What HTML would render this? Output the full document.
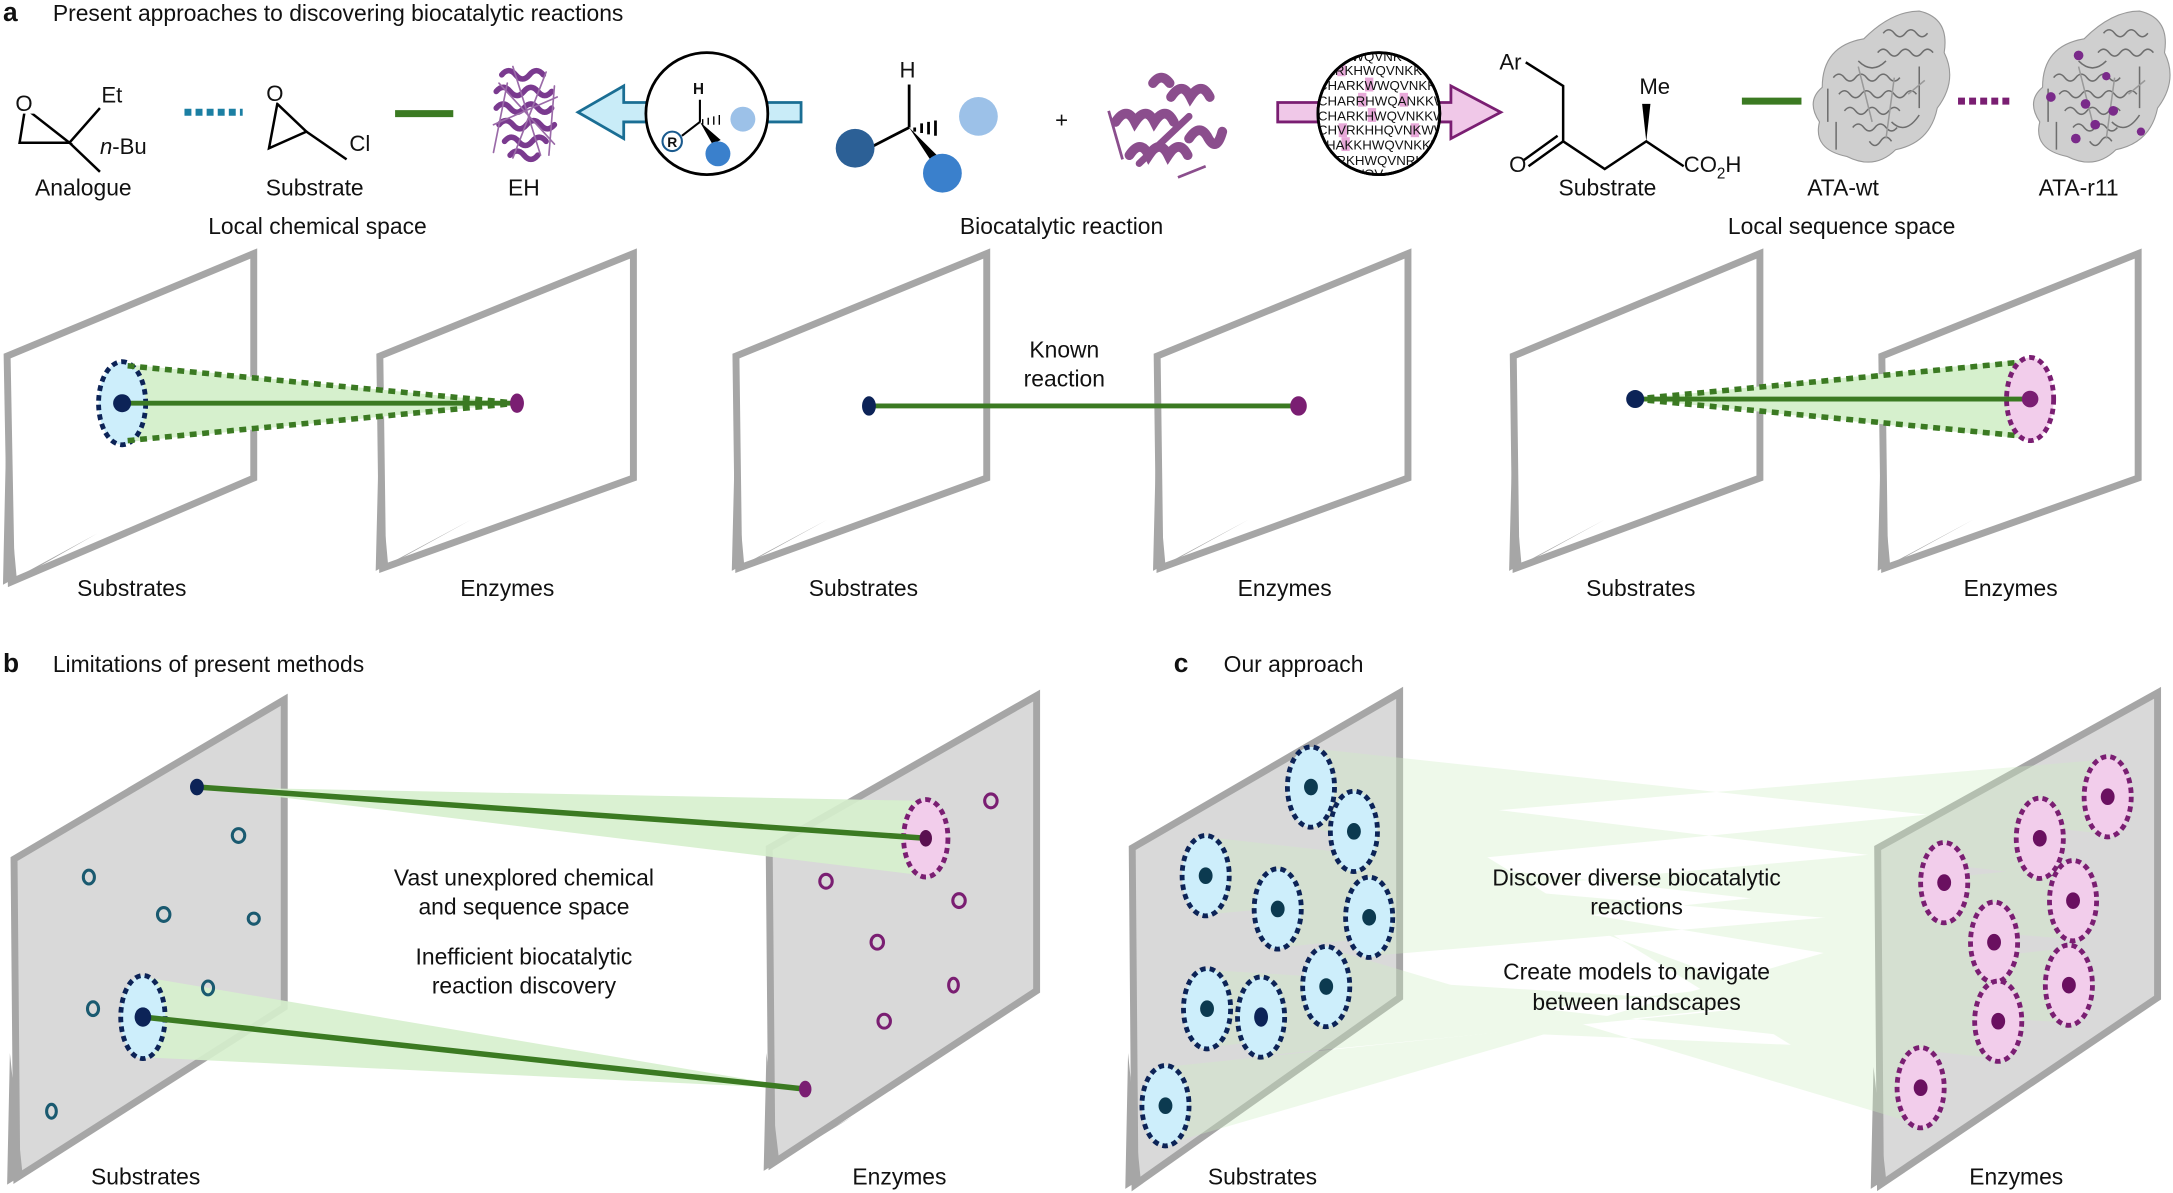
<!DOCTYPE html>
<html><head><meta charset="utf-8"><style>
html,body{margin:0;padding:0;background:#fff;}
svg{display:block;}
text{font-family:"Liberation Sans",Arial,sans-serif;fill:#111;}
</style></head><body>
<svg width="2173" height="1193" viewBox="0 0 1568 861" xmlns="http://www.w3.org/2000/svg">
<defs>
<clipPath id="seqclip"><circle cx="995" cy="82" r="43"/></clipPath>
<g id="ehprot" fill="none" stroke="#7a3a8f" stroke-linecap="round">
<g stroke-width="4">
<path d="M-18,-28 q5,-6 10,0 q5,6 10,0 q5,-6 10,0"/><path d="M-22,-16 q5,-6 10,0 q5,6 10,0 q5,-6 10,0 q5,6 10,0"/>
<path d="M-22,-4 q5,-6 10,0 q5,6 10,0 q5,-6 10,0 q5,6 10,0"/><path d="M-20,8 q5,-6 10,0 q5,6 10,0 q5,-6 10,0 q5,6 10,0"/>
<path d="M-16,20 q5,-6 10,0 q5,6 10,0 q5,-6 10,0"/><path d="M-12,30 q5,-6 10,0 q5,6 10,0"/>
</g>
<path d="M-10,-34 l20,64 M14,-30 l-24,62 M-24,8 l46,-20 M-20,-22 l40,44 M-24,28 l10,-50 M16,30 l4,-50" stroke-width="1.2" stroke="#9a6aa8"/>
</g>
<g id="gprot" fill="#c4c4c4" stroke="#8a8a8a" stroke-width="0.8">
<path d="M-40,-5 q0,-30 30,-35 q20,-20 40,-20 q22,5 18,30 q10,20 -5,40 q-5,25 -30,30 q-15,15 -35,5 q-25,-5 -20,-25 q-10,-15 2,-25z" fill="#cfcfcf" stroke="#999"/>
<g fill="none" stroke="#6e6e6e" stroke-width="1.1">
<path d="M-32,-12 q4,-5 8,0 q4,5 8,0 q4,-5 8,0 q4,5 8,0 q4,-5 8,0 q4,5 8,0"/>
<path d="M-28,0 q4,-5 8,0 q4,5 8,0 q4,-5 8,0 q4,5 8,0 q4,-5 8,0 q4,5 8,0 q4,-5 8,0"/>
<path d="M-24,12 q4,-5 8,0 q4,5 8,0 q4,-5 8,0 q4,5 8,0 q4,-5 8,0"/>
<path d="M-18,24 q4,-5 8,0 q4,5 8,0 q4,-5 8,0 q4,5 8,0"/>
<path d="M0,-30 q4,-5 8,0 q4,5 8,0 q4,-5 8,0 q4,5 8,0 q4,-5 8,0"/>
<path d="M4,-44 q4,-5 8,0 q4,5 8,0 q4,-5 8,0 q4,5 8,0"/>
<path d="M-36,-4 l0,24 M-30,20 l0,20 M30,-20 l0,30 M-14,-24 q10,10 20,0 M10,20 q10,10 20,-5 M-6,34 q4,6 8,0 q4,-6 8,0"/>
<path d="M-14,-20 l10,40 M12,-12 l-6,44 M22,0 l12,-10" stroke="#999"/>
</g>
</g>
</defs>

<text x="2" y="15" font-size="19" font-weight="bold">a</text>
<text x="38" y="15" font-size="16.5">Present approaches to discovering biocatalytic reactions</text>

<g stroke="#000" stroke-width="1.8" fill="none">
<path d="M18,78 L50,103 L14,103 Z" fill="none"/>
<path d="M50,103 L72,78 M50,103 L72,124"/>
</g>
<rect x="11" y="66" width="14" height="16" fill="#fff"/>
<text x="11" y="80" font-size="16">O</text>
<text x="73" y="74" font-size="16">Et</text>
<text x="72" y="111" font-size="16"><tspan font-style="italic">n</tspan>-Bu</text>
<text x="60" y="141" font-size="16.5" text-anchor="middle">Analogue</text>
<line x1="133" y1="81" x2="175" y2="81" stroke="#1b7fa3" stroke-width="5" stroke-dasharray="5,3"/>
<g stroke="#000" stroke-width="1.8" fill="none">
<path d="M200,75 L221,95 L194,107 Z"/><path d="M221,95 L250,115"/>
</g>
<rect x="192" y="58" width="14" height="16" fill="#fff"/>
<text x="192" y="73" font-size="16">O</text>
<text x="252" y="109" font-size="16">Cl</text>
<text x="227" y="141" font-size="16.5" text-anchor="middle">Substrate</text>
<line x1="285" y1="82" x2="327" y2="82" stroke="#3b7a22" stroke-width="5"/>
<use href="#ehprot" x="380" y="82"/>
<text x="378" y="141" font-size="16.5" text-anchor="middle">EH</text>
<text x="229" y="169" font-size="16.5" text-anchor="middle">Local chemical space</text>

<path d="M578,74 L450,74 L450,62 L417,81 L450,100 L450,88 L578,88 Z" fill="#c9ecf8" stroke="#1a6e94" stroke-width="2"/>
<circle cx="510" cy="82" r="44" fill="#fff" stroke="#000" stroke-width="2"/>
<text x="500" y="68" font-size="11" font-weight="bold">H</text>
<line x1="505" y1="72" x2="505" y2="88" stroke="#000" stroke-width="1.5"/>
<path d="M507,86 l0,4 M511,85 l0,5 M515,84 l0,6 M519,83 l0,7" stroke="#000" stroke-width="1"/>
<path d="M505,88 L492,98" stroke="#000" stroke-width="1.5"/>
<path d="M505,88 L514,104 L520,101 Z" fill="#000"/>
<circle cx="536" cy="86" r="9" fill="#9cc1e8"/>
<circle cx="518" cy="111" r="9" fill="#3a80cc"/>
<circle cx="485" cy="102" r="7" fill="#fff" stroke="#1a5a8e" stroke-width="1.5"/>
<text x="485" y="106" font-size="10" font-weight="bold" text-anchor="middle">R</text>

<text x="649" y="56" font-size="16">H</text>
<line x1="656" y1="61" x2="656" y2="92" stroke="#000" stroke-width="2"/>
<path d="M660,92 l0,3 M665,89 l0,7 M670,88 l0,9 M675,87 l0,11" stroke="#000" stroke-width="2"/>
<line x1="656" y1="92" x2="625" y2="108" stroke="#000" stroke-width="2"/>
<path d="M656,92 L677,124 L684,120 Z" fill="#000"/>
<circle cx="617" cy="107" r="14" fill="#2c6096"/>
<circle cx="706" cy="84" r="14" fill="#9cc1e8"/>
<circle cx="680" cy="125" r="14" fill="#3a80cc"/>
<text x="766" y="92" font-size="16" text-anchor="middle">+</text>
<g fill="none" stroke="#8b4e8d" stroke-width="7" stroke-linecap="round">
<path d="M805,88 q8,-12 14,0 q8,-12 14,0 q8,-12 14,0"/>
<path d="M815,112 q8,-12 14,0 q8,-12 14,0 q8,-12 14,0"/>
<path d="M845,70 q8,-12 14,0 q8,-12 14,0"/>
<path d="M822,118 L858,84" stroke-width="5"/>
<path d="M858,100 q8,-12 14,0 q6,10 10,-5"/>
<path d="M832,60 q6,-8 12,0"/>
</g>
<path d="M800,80 l10,35 M850,128 l20,-8" stroke="#8b4e8d" stroke-width="2" fill="none"/>

<path d="M922,74 L1047,74 L1047,62 L1083,81 L1047,100 L1047,88 L922,88 Z" fill="#f0c8e8" stroke="#7a1e72" stroke-width="2"/>
<circle cx="995" cy="82" r="44" fill="#fff" stroke="#000" stroke-width="2"/>
<g clip-path="url(#seqclip)" font-size="9.6">
<rect x="965" y="45" width="6" height="10" fill="#e8a9d9"/><rect x="985" y="56" width="6" height="10" fill="#e8a9d9"/>
<rect x="980" y="67" width="6" height="10" fill="#e8a9d9"/><rect x="1010" y="67" width="6" height="10" fill="#e8a9d9"/>
<rect x="987" y="78" width="6" height="10" fill="#e8a9d9"/><rect x="966" y="89" width="6" height="10" fill="#e8a9d9"/>
<rect x="1018" y="89" width="6" height="10" fill="#e8a9d9"/><rect x="968" y="99" width="6" height="10" fill="#e8a9d9"/>
<text x="955" y="44">RKHWQVNK</text>
<text x="951" y="54">HLRKHWQVNKK</text>
<text x="951" y="65">CHARKWWQVNKKW</text>
<text x="951" y="76">CHARRHWQANKKW</text>
<text x="951" y="87">CHARKHWQVNKKW</text>
<text x="951" y="97">CHVRKHHQVNKWW</text>
<text x="951" y="108">THAKKHWQVNKKW</text>
<text x="951" y="119">HARKHWQVNRK</text>
<text x="955" y="129">RKHWQV</text>
</g>
<circle cx="995" cy="82" r="44" fill="none" stroke="#000" stroke-width="2"/>

<text x="1082" y="50" font-size="16">Ar</text>
<g stroke="#000" stroke-width="1.8" fill="none">
<path d="M1101,45 L1128,62 L1128,102 L1158,122 L1188,102 L1215,120"/>
<path d="M1128,102 L1103,120 M1124,98 L1099,116"/>
</g>
<path d="M1188,102 L1185,75 L1191,75 Z" fill="#000"/>
<text x="1183" y="68" font-size="16">Me</text>
<text x="1089" y="124" font-size="16">O</text>
<text x="1215" y="124" font-size="16">CO<tspan font-size="11" dy="5">2</tspan><tspan dy="-5">H</tspan></text>
<text x="1160" y="141" font-size="16.5" text-anchor="middle">Substrate</text>
<line x1="1257" y1="73" x2="1300" y2="73" stroke="#3b7a22" stroke-width="5"/>
<use href="#gprot" x="1355" y="68"/>
<line x1="1413" y1="73" x2="1453" y2="73" stroke="#7a1e72" stroke-width="5" stroke-dasharray="5,3"/>
<use href="#gprot" x="1514" y="68"/>
<g fill="#7a2a8a"><circle cx="1500" cy="40" r="3.5"/><circle cx="1480" cy="70" r="3.5"/><circle cx="1505" cy="75" r="3.5"/><circle cx="1512" cy="90" r="3.5"/><circle cx="1498" cy="100" r="3.5"/><circle cx="1525" cy="80" r="3.5"/><circle cx="1545" cy="95" r="3"/><circle cx="1520" cy="55" r="3"/></g>
<text x="1330" y="141" font-size="16.5" text-anchor="middle">ATA-wt</text>
<text x="1500" y="141" font-size="16.5" text-anchor="middle">ATA-r11</text>
<text x="766" y="169" font-size="16.5" text-anchor="middle">Biocatalytic reaction</text>
<text x="1329" y="169" font-size="16.5" text-anchor="middle">Local sequence space</text>

<g fill="#fff" stroke="#a6a6a6" stroke-width="5" stroke-linejoin="miter">
<polygon points="5,257 183,183 183,345 8,420"/>
<polygon points="274,257 457,183 457,345 276,410"/>
<polygon points="531,257 712,183 712,345 533,410"/>
<polygon points="835,257 1016,183 1016,345 837,410"/>
<polygon points="1092,257 1270,183 1270,345 1094,410"/>
<polygon points="1358,257 1543,183 1543,345 1360,410"/>
</g>
<g fill="#a6a6a6">
<polygon points="2,422 4,330 12,418 70,385"/><polygon points="271,412 273,330 280,408 340,375"/>
<polygon points="528,412 530,330 537,408 597,375"/><polygon points="832,412 834,330 841,408 901,375"/>
<polygon points="1089,412 1091,330 1098,408 1158,375"/><polygon points="1355,412 1357,330 1364,408 1424,375"/>
</g>
<polygon points="92,263 373,291 92,319" fill="#d6f0cd"/>
<ellipse cx="88" cy="291" rx="17" ry="30" fill="#cdeefb" stroke="#0c2357" stroke-width="3.5" stroke-dasharray="4,3"/>
<line x1="92" y1="264" x2="373" y2="291" stroke="#3b7a22" stroke-width="4" stroke-dasharray="5,4"/>
<line x1="92" y1="318" x2="373" y2="291" stroke="#3b7a22" stroke-width="4" stroke-dasharray="5,4"/>
<line x1="88" y1="291" x2="373" y2="291" stroke="#3b7a22" stroke-width="3.5"/>
<circle cx="88" cy="291" r="6.5" fill="#0c2357"/>
<ellipse cx="373" cy="291" rx="5" ry="7" fill="#7a1e72"/>
<text x="95" y="430" font-size="16.5" text-anchor="middle">Substrates</text>
<text x="366" y="430" font-size="16.5" text-anchor="middle">Enzymes</text>
<line x1="627" y1="293" x2="937" y2="293" stroke="#3b7a22" stroke-width="3.5"/>
<ellipse cx="627" cy="293" rx="5" ry="7" fill="#0c2357"/>
<ellipse cx="937" cy="293" rx="6" ry="7" fill="#7a1e72"/>
<rect x="735" y="240" width="68" height="44" fill="#fff"/>
<text x="768" y="258" font-size="16.5" text-anchor="middle">Known</text>
<text x="768" y="279" font-size="16.5" text-anchor="middle">reaction</text>
<text x="623" y="430" font-size="16.5" text-anchor="middle">Substrates</text>
<text x="927" y="430" font-size="16.5" text-anchor="middle">Enzymes</text>
<polygon points="1180,288 1465,259 1465,317" fill="#d6f0cd"/>
<line x1="1180" y1="288" x2="1462" y2="261" stroke="#3b7a22" stroke-width="4" stroke-dasharray="5,4"/>
<line x1="1180" y1="288" x2="1462" y2="315" stroke="#3b7a22" stroke-width="4" stroke-dasharray="5,4"/>
<ellipse cx="1465" cy="288" rx="17" ry="30" fill="#f2cdeb" stroke="#7a1e72" stroke-width="3.5" stroke-dasharray="4,3"/>
<line x1="1180" y1="288" x2="1465" y2="288" stroke="#3b7a22" stroke-width="3.5"/>
<circle cx="1180" cy="288" r="6.5" fill="#0c2357"/>
<circle cx="1465" cy="288" r="6" fill="#7a1e72"/>
<text x="1184" y="430" font-size="16.5" text-anchor="middle">Substrates</text>
<text x="1451" y="430" font-size="16.5" text-anchor="middle">Enzymes</text>

<text x="2" y="485" font-size="19" font-weight="bold">b</text>
<text x="38" y="485" font-size="16.5">Limitations of present methods</text>
<g fill="#d9d9d9" stroke="#a6a6a6" stroke-width="5">
<polygon points="10,620 205,505 205,727 12,850"/>
<polygon points="555,612 748,502 748,715 557,840"/>
</g>
<polygon points="5,855 7,760 16,846 70,815" fill="#a6a6a6"/>
<polygon points="551,845 553,760 562,836 615,806" fill="#a6a6a6"/>
<polygon points="142,568 668,578 668,632" fill="#d6f0cd" opacity="0.9"/>
<polygon points="103,705 103,763 581,786" fill="#d6f0cd" opacity="0.9"/>
<g fill="none" stroke="#1a5a70" stroke-width="2.2">
<ellipse cx="172" cy="603" rx="4.5" ry="5"/><ellipse cx="64" cy="633" rx="4" ry="5"/><ellipse cx="118" cy="660" rx="4.5" ry="5"/>
<ellipse cx="183" cy="663" rx="4" ry="4"/><ellipse cx="67" cy="728" rx="4" ry="5"/><ellipse cx="150" cy="713" rx="4" ry="5"/><ellipse cx="37" cy="802" rx="3.5" ry="5"/>
</g>
<g fill="none" stroke="#7a1e72" stroke-width="2.2">
<ellipse cx="715" cy="578" rx="4.5" ry="5"/><ellipse cx="596" cy="636" rx="4.5" ry="5"/><ellipse cx="692" cy="650" rx="4.5" ry="5"/>
<ellipse cx="633" cy="680" rx="4.5" ry="5"/><ellipse cx="688" cy="711" rx="3.5" ry="5"/><ellipse cx="638" cy="737" rx="4.5" ry="5"/>
</g>
<ellipse cx="668" cy="605" rx="16" ry="28" fill="#f2cdeb" stroke="#7a1e72" stroke-width="3.5" stroke-dasharray="4,3"/>
<ellipse cx="103" cy="734" rx="16" ry="30" fill="#cdeefb" stroke="#0c2357" stroke-width="3.5" stroke-dasharray="4,3"/>
<line x1="142" y1="568" x2="668" y2="605" stroke="#3b7a22" stroke-width="4"/>
<line x1="103" y1="734" x2="581" y2="786" stroke="#3b7a22" stroke-width="4"/>
<ellipse cx="142" cy="568" rx="5" ry="6" fill="#0c2357"/>
<ellipse cx="668" cy="605" rx="4.5" ry="6" fill="#5a1050"/>
<ellipse cx="103" cy="734" rx="6" ry="7" fill="#0c2357"/>
<ellipse cx="581" cy="786" rx="4.5" ry="6" fill="#7a1e72"/>
<text x="378" y="639" font-size="16.5" text-anchor="middle">Vast unexplored chemical</text>
<text x="378" y="660" font-size="16.5" text-anchor="middle">and sequence space</text>
<text x="378" y="696" font-size="16.5" text-anchor="middle">Inefficient biocatalytic</text>
<text x="378" y="717" font-size="16.5" text-anchor="middle">reaction discovery</text>
<text x="105" y="855" font-size="16.5" text-anchor="middle">Substrates</text>
<text x="649" y="855" font-size="16.5" text-anchor="middle">Enzymes</text>

<text x="847" y="485" font-size="19" font-weight="bold">c</text>
<text x="883" y="485" font-size="16.5">Our approach</text>
<g fill="#d9d9d9" stroke="#a6a6a6" stroke-width="5">
<polygon points="817,612 1010,500 1010,720 819,855"/>
<polygon points="1355,612 1557,500 1557,720 1357,855"/>
</g>
<polygon points="812,858 814,760 823,850 875,818" fill="#a6a6a6"/>
<polygon points="1350,858 1352,770 1361,850 1410,820" fill="#a6a6a6"/>
<g fill="#cfeec4" opacity="0.35">
<polygon points="946,540 946,596 1521,548 1521,602"/>
<polygon points="977,572 977,628 1472,580 1472,632"/>
<polygon points="870,604 870,660 1403,612 1403,664"/>
<polygon points="922,628 922,684 1496,624 1496,678"/>
<polygon points="988,634 988,690 1439,652 1439,708"/>
<polygon points="871,700 871,756 1493,684 1493,738"/>
<polygon points="910,706 910,762 1442,710 1442,764"/>
<polygon points="957,684 957,740 1386,758 1386,812"/>
<polygon points="841,770 841,826 1439,652 1439,708"/>
<polygon points="946,540 946,596 1386,758 1386,812"/>
</g>
<g stroke="#0c2357" stroke-width="3.5" stroke-dasharray="4,3" fill="#cdeefb">
<ellipse cx="946" cy="568" rx="17" ry="29"/><ellipse cx="977" cy="600" rx="17" ry="29"/><ellipse cx="870" cy="632" rx="17" ry="29"/>
<ellipse cx="922" cy="656" rx="17" ry="29"/><ellipse cx="988" cy="662" rx="17" ry="29"/><ellipse cx="871" cy="728" rx="17" ry="29"/>
<ellipse cx="910" cy="734" rx="17" ry="29"/><ellipse cx="957" cy="712" rx="17" ry="29"/><ellipse cx="841" cy="798" rx="17" ry="29"/>
</g>
<g fill="#0c3a50">
<ellipse cx="946" cy="568" rx="5" ry="6"/><ellipse cx="977" cy="600" rx="5" ry="6"/><ellipse cx="870" cy="632" rx="5" ry="6"/>
<ellipse cx="922" cy="656" rx="5" ry="6"/><ellipse cx="988" cy="662" rx="5" ry="6"/><ellipse cx="871" cy="728" rx="5" ry="6"/>
<ellipse cx="910" cy="734" rx="5" ry="7" fill="#0c2357"/><ellipse cx="957" cy="712" rx="5" ry="6"/><ellipse cx="841" cy="798" rx="5" ry="6"/>
</g>
<g stroke="#7a1e72" stroke-width="3.5" stroke-dasharray="4,3" fill="#f2cdeb">
<ellipse cx="1521" cy="575" rx="17" ry="29"/><ellipse cx="1472" cy="605" rx="17" ry="29"/><ellipse cx="1403" cy="637" rx="17" ry="29"/>
<ellipse cx="1496" cy="650" rx="17" ry="29"/><ellipse cx="1439" cy="680" rx="17" ry="29"/><ellipse cx="1493" cy="711" rx="17" ry="29"/>
<ellipse cx="1442" cy="737" rx="17" ry="29"/><ellipse cx="1386" cy="785" rx="17" ry="29"/>
</g>
<g fill="#6a1060">
<ellipse cx="1521" cy="575" rx="5" ry="6"/><ellipse cx="1472" cy="605" rx="5" ry="6"/><ellipse cx="1403" cy="637" rx="5" ry="6"/>
<ellipse cx="1496" cy="650" rx="5" ry="6"/><ellipse cx="1439" cy="680" rx="5" ry="6"/><ellipse cx="1493" cy="711" rx="5" ry="6"/>
<ellipse cx="1442" cy="737" rx="5" ry="6"/><ellipse cx="1386" cy="785" rx="5" ry="6"/>
</g>
<text x="1181" y="639" font-size="16.5" text-anchor="middle">Discover diverse biocatalytic</text>
<text x="1181" y="660" font-size="16.5" text-anchor="middle">reactions</text>
<text x="1181" y="707" font-size="16.5" text-anchor="middle">Create models to navigate</text>
<text x="1181" y="729" font-size="16.5" text-anchor="middle">between landscapes</text>
<text x="911" y="855" font-size="16.5" text-anchor="middle">Substrates</text>
<text x="1455" y="855" font-size="16.5" text-anchor="middle">Enzymes</text>
</svg>
</body></html>
